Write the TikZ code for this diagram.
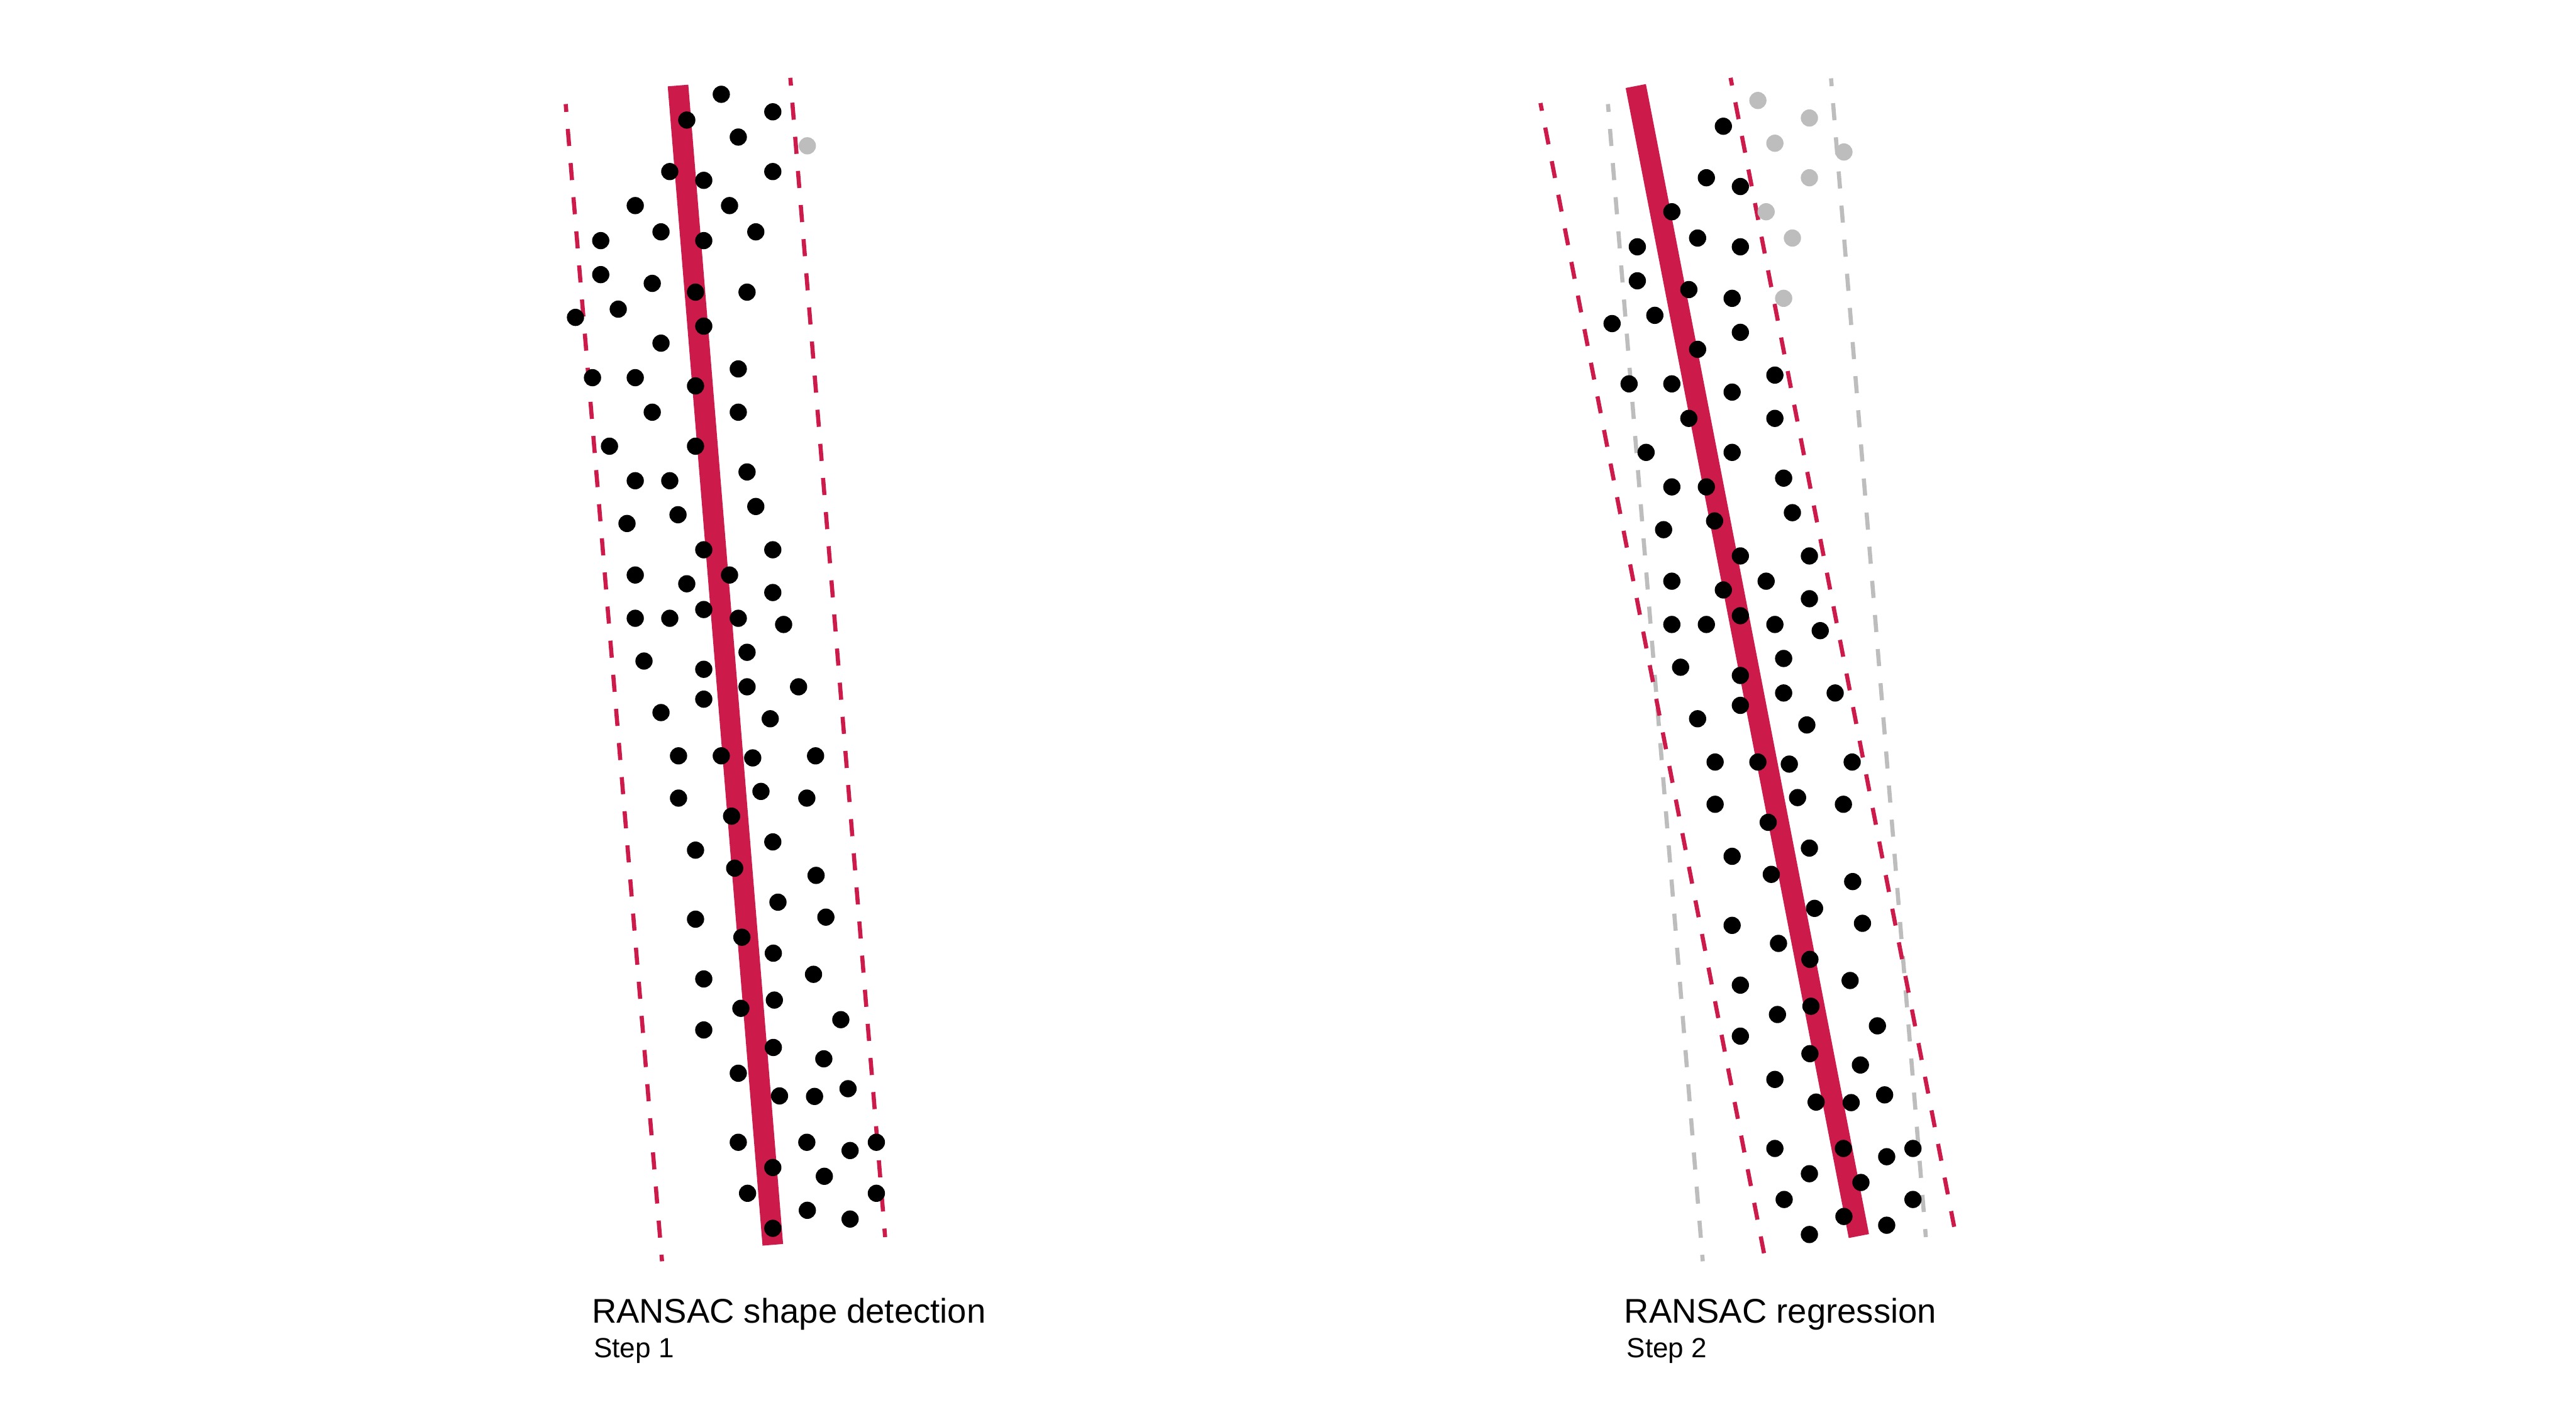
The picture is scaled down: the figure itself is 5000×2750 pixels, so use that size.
\documentclass[tikz,border=0pt]{standalone}
\usepackage{fontspec}
\setmainfont{Liberation Sans}
\usepackage{xcolor}
\usepackage{tikz}

\definecolor{ransacred}{HTML}{CC1A4A}
\definecolor{ptgray}{HTML}{BDBDBD}

% point cloud (pixel coordinates, left panel)
\newcommand{\inpts}{1333/233, 1300/333, 1366/350, 1233/399, 1283/450, 1166/467, 1366/467,
  1166/533, 1266/550, 1350/567, 1200/600, 1117/616, 1366/633, 1283/666, 1433/716,
  1150/733, 1233/733, 1350/749, 1266/800, 1433/800, 1183/866, 1350/866, 1450/916,
  1233/933, 1300/933, 1467/983, 1316/999, 1217/1016, 1366/1067, 1500/1067, 1233/1116,
  1416/1116, 1333/1133, 1500/1150, 1233/1200, 1300/1200, 1366/1183, 1433/1200,
  1521/1212, 1250/1283, 1450/1266, 1366/1299, 1450/1333, 1550/1333, 1366/1357,
  1283/1383, 1495/1395, 1317/1467, 1400/1467, 1461/1471, 1583/1467, 1317/1549,
  1477/1536, 1566/1549, 1420/1584, 1500/1634, 1350/1650, 1426/1685, 1584/1699,
  1510/1751, 1350/1784, 1603/1780, 1440/1819, 1501/1850, 1579/1891, 1366/1900,
  1503/1941, 1438/1957, 1632/1979, 1366/1999, 1501/2033, 1599/2055, 1433/2083,
  1513/2127, 1581/2128, 1646/2113, 1433/2217, 1566/2217, 1650/2233, 1701/2217,
  1500/2266, 1600/2283, 1451/2316, 1701/2316, 1567/2349, 1650/2366, 1500/2384}
\newcommand{\toppts}{1400/183, 1500/217, 1433/266, 1500/333, 1416/399, 1467/450, 1450/567}
\newcommand{\farpts}{1567/283}

\newcommand{\titlefont}{\fontsize{18.9}{22}\selectfont}
\newcommand{\stepfont}{\fontsize{15.3}{18}\selectfont}

\begin{document}
\begin{tikzpicture}[x=0.01cm, y=-0.01cm,
    pt/.style={fill=black},
    outpt/.style={fill=ptgray},
    fitline/.style={ransacred, line width=0.4cm},
    redband/.style={ransacred, line width=0.08cm, dash pattern=on 0.332cm off 0.332cm, dash phase=0.18cm},
    grayband/.style={redband, ptgray},
    label/.style={anchor=base west, inner sep=0pt, text=black}]
    \useasboundingbox (0,0) rectangle (5000,2750);

    % Step 1: shape detection
    \draw[redband] (1098,202) -- (1285,2448);
    \draw[redband] (1534,151) -- (1718,2401);
    \draw[fitline] (1316,166) -- (1500,2416);
    \foreach \x/\y in \inpts {\fill[pt] (\x,\y) circle (0.167cm);}
    \foreach \x/\y in \toppts {\fill[pt] (\x,\y) circle (0.167cm);}
    \foreach \x/\y in \farpts {\fill[outpt] (\x,\y) circle (0.167cm);}

    \node[label, font=\titlefont] (title1) at (1148,2568) {RANSAC shape detection};
    \node[label, font=\stepfont] (step1) at (1152,2635) {Step 1};

    % Step 2: regression (old band in gray)
    \draw[grayband] (3121,202) -- (3305,2448);
    \draw[grayband] (3554,152) -- (3738,2401);
    \draw[redband] (2990,200) -- (3424,2433);
    \draw[redband] (3359,151) -- (3793,2381);
    \draw[fitline] (3175,167) -- (3608,2399);
    \begin{scope}[shift={(2012,12)}]
        \foreach \x/\y in \inpts {\fill[pt] (\x,\y) circle (0.167cm);}
        \foreach \x/\y in \toppts {\fill[outpt] (\x,\y) circle (0.167cm);}
        \foreach \x/\y in \farpts {\fill[outpt] (\x,\y) circle (0.167cm);}
    \end{scope}

    \node[label, font=\titlefont] (title2) at (3152,2568) {RANSAC regression};
    \node[label, font=\stepfont] (step2) at (3157,2635) {Step 2};
\end{tikzpicture}
\end{document}
